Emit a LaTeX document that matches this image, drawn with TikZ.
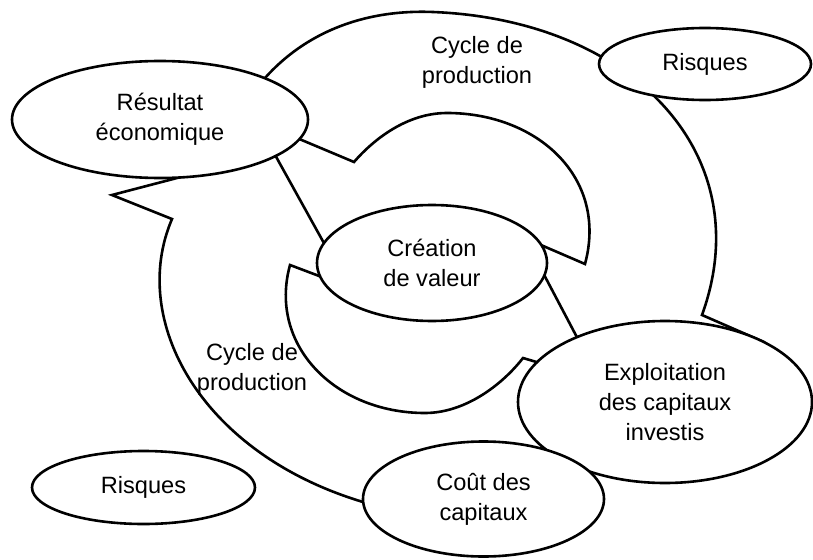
\documentclass[tikz,border=0pt]{standalone}
\usepackage{fontspec}
\setmainfont{Liberation Sans}
\usetikzlibrary{shapes.geometric}
\begin{document}
\begin{tikzpicture}[x=1pt,y=-1pt,
  band/.style={line width=2.6pt, line join=miter},
  bubble/.style={ellipse, draw, fill=white, line width=2.6pt, inner sep=0pt,
    align=center, font=\fontsize{23.6}{30}\selectfont},
  caption/.style={align=center, inner sep=0pt, font=\fontsize{23.6}{30}\selectfont}]
\useasboundingbox (0,0) rectangle (813,559);

% upper curved arrow: outer edge with its barb, inner edge with tail and barb, inner side of the head
\draw[band] (258,86) -- (265,78) .. controls (305,33.2) and (363,9.2) .. (433,12)
  .. controls (633,20) and (760,155) .. (702,315) -- (765,342.5);
\draw[band, line join=round] (765,342.5) -- (700,395);
\draw[band] (285,133) -- (354,162) .. controls (373.7,139.3) and (407,113) .. (447,113)
  .. controls (537,113) and (608.4,177.2) .. (585,264) -- (520,236);
\draw[band] (541,269) -- (590,362);

% lower curved arrow
\draw[band] (380,507) -- (363,502) .. controls (200,453) and (128.7,320) .. (172,219)
  -- (112,195) -- (200,172);
\draw[band] (335,282) -- (290,265) .. controls (268,345) and (335,413) .. (425,413)
  .. controls (465,413) and (502,385) .. (523,358) -- (560,369);
\draw[band] (269,144) -- (330,254);

% stages of the cycle
\node[bubble, minimum width=296pt, minimum height=117pt] (resultat) at (160,119.5) {Résultat\\économique};
\node[bubble, minimum width=212pt, minimum height=72pt] (risquesA) at (705,64) {Risques};
\node[bubble, minimum width=230pt, minimum height=116pt] (creation) at (432,263) {Création\\de valeur};
\node[bubble, minimum width=294pt, minimum height=162pt] (exploit) at (665,402) {Exploitation\\des capitaux\\investis};
\node[bubble, minimum width=241pt, minimum height=115pt] (cout) at (483.5,499) {Coût des\\capitaux};
\node[bubble, minimum width=223pt, minimum height=73pt] (risquesB) at (143.5,487.5) {Risques};

% labels of the two arrows
\node[caption] (cycleA) at (477,62) {Cycle de\\production};
\node[caption] (cycleB) at (252,369) {Cycle de\\production};
\end{tikzpicture}
\end{document}
